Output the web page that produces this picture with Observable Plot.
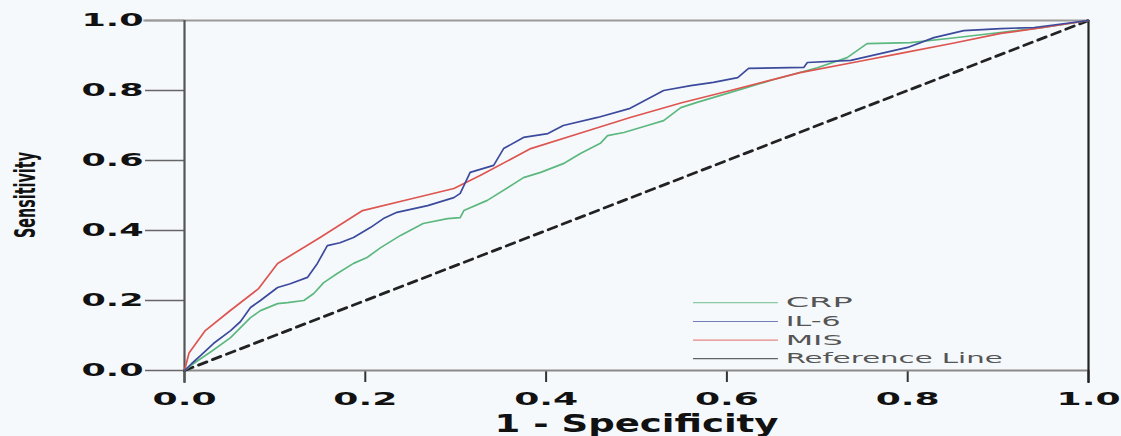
<!DOCTYPE html>
<html><head><meta charset="utf-8">
<script src="https://cdn.jsdelivr.net/npm/d3@7"></script>
<script src="https://cdn.jsdelivr.net/npm/@observablehq/plot@0.6"></script>
<style>body{margin:0;background:#f6f9fc;} svg{display:block;}</style>
</head><body><div id="chart"></div>
<script>
const yTicks = [0, 0.2, 0.4, 0.6, 0.8, 1.0];
const xTicks = [0, 0.2, 0.4, 0.6, 0.8, 1.0];
const seriesNames = ["CRP", "IL-6", "MIS", "Reference Line"];
const seriesColors = ["#5cb87f", "#3b4a9c", "#dd5550", "#222222"];

const misX = [0,0.005,0.023,0.05,0.082,0.103,0.15,0.197,0.25,0.298,0.327,0.383,0.44,0.493,0.55,0.604,0.681,0.75,0.792,0.85,0.903,0.95,1];
const misY = [0,0.05,0.114,0.17,0.234,0.306,0.38,0.457,0.49,0.52,0.557,0.634,0.68,0.723,0.765,0.80,0.851,0.885,0.906,0.935,0.963,0.98,1];

const il6X = [0,0.008,0.018,0.032,0.051,0.062,0.073,0.084,0.103,0.117,0.136,0.147,0.158,0.172,0.187,0.206,0.22,0.235,0.269,0.298,0.305,0.316,0.342,0.353,0.375,0.402,0.419,0.457,0.493,0.53,0.56,0.585,0.612,0.624,0.685,0.689,0.737,0.8,0.829,0.862,0.903,0.94,1];
const il6Y = [0,0.02,0.043,0.077,0.114,0.14,0.18,0.2,0.237,0.248,0.266,0.306,0.357,0.365,0.38,0.409,0.434,0.452,0.471,0.494,0.506,0.566,0.586,0.634,0.666,0.677,0.70,0.723,0.749,0.80,0.814,0.823,0.837,0.863,0.866,0.88,0.886,0.923,0.951,0.971,0.977,0.98,1];

const crpX = [0,0.01,0.03,0.051,0.073,0.084,0.103,0.114,0.132,0.143,0.154,0.169,0.187,0.202,0.217,0.239,0.264,0.291,0.305,0.309,0.335,0.375,0.394,0.419,0.438,0.46,0.468,0.486,0.512,0.53,0.549,0.567,0.593,0.65,0.7,0.733,0.755,0.803,0.85,0.9,0.95,1];
const crpY = [0,0.02,0.055,0.094,0.151,0.171,0.191,0.194,0.2,0.22,0.251,0.277,0.306,0.323,0.351,0.386,0.42,0.434,0.437,0.457,0.486,0.551,0.566,0.591,0.62,0.649,0.671,0.68,0.70,0.714,0.751,0.766,0.786,0.83,0.865,0.894,0.934,0.937,0.95,0.965,0.98,1];

const refX = [0, 1];
const refY = [0, 1];

const toPts = (xs, ys) => xs.map((x, i) => ({x, y: ys[i]}));
const crp = toPts(crpX, crpY), il6 = toPts(il6X, il6Y), mis = toPts(misX, misY), ref = toPts(refX, refY);

// legend rows (positions in data units inside the frame)
const legend = seriesNames.map((name, i) => ({name, color: seriesColors[i], y: [0.194, 0.14, 0.087, 0.034][i]}));

const font = "DejaVu Sans, sans-serif";
const chart = Plot.plot({
  width: 1121, height: 436,
  marginLeft: 184, marginRight: 33, marginTop: 20, marginBottom: 66,
  style: {background: "#f6f9fc", fontFamily: font},
  x: {domain: [0, 1]},
  y: {domain: [0, 1]},
  marks: [
    Plot.axisY(yTicks, {tickSize: 39, tickPadding: 2, tickFormat: d3.format(".1f"), fontSize: 18, fontWeight: "bold", stroke: "#666", fill: "#111", strokeWidth: 1.6, label: null}),
    Plot.axisX(xTicks, {tickSize: 12, tickPadding: 10, tickFormat: d3.format(".1f"), fontSize: 18, fontWeight: "bold", stroke: "#333", fill: "#111", strokeWidth: 2, label: null}),
    Plot.ruleY([0], {stroke: "#8a8a8a", strokeWidth: 2}),
    Plot.ruleY([1], {stroke: "#9a9a9a", strokeWidth: 2, x1: -0.045, x2: 1}),
    Plot.ruleX([0], {stroke: "#555", strokeWidth: 2.2, y1: -0.037, y2: 1}),
    Plot.ruleX([1], {stroke: "#222", strokeWidth: 2.2, y1: -0.037, y2: 1}),
    Plot.line(ref, {x: "x", y: "y", stroke: seriesColors[3], strokeWidth: 2.8, strokeDasharray: "9,6"}),
    Plot.line(crp, {x: "x", y: "y", stroke: seriesColors[0], strokeWidth: 1.7}),
    Plot.line(mis, {x: "x", y: "y", stroke: seriesColors[2], strokeWidth: 1.7}),
    Plot.line(il6, {x: "x", y: "y", stroke: seriesColors[1], strokeWidth: 1.7}),
    Plot.ruleY(legend, {y: "y", x1: 0.563, x2: 0.657, stroke: "color", strokeWidth: 1.2, strokeOpacity: 0.7,
      strokeDasharray: d => d.name === "Reference Line" ? "6,4" : null}),
    Plot.text(legend, {y: "y", x: 0.665, text: "name", textAnchor: "start", fontSize: 14, fill: "#555", className: "legtext"}),
    Plot.text(["1 - Specificity"], {frameAnchor: "bottom", dy: 61, lineAnchor: "bottom", fontSize: 24, fontWeight: "bold", fill: "#111", className: "xlab"})
  ]
});
document.getElementById("chart").appendChild(chart);

const svg = d3.select(chart);
svg.selectAll('g[aria-label="y-axis tick label"] text').attr("textLength", 62).attr("lengthAdjust", "spacingAndGlyphs");
svg.selectAll('g[aria-label="x-axis tick label"] text').attr("textLength", 64).attr("lengthAdjust", "spacingAndGlyphs");
svg.selectAll('.xlab text').attr("textLength", 284).attr("lengthAdjust", "spacingAndGlyphs");
const legLen = {"CRP": 67, "IL-6": 55, "MIS": 57, "Reference Line": 217};
svg.selectAll('.legtext text').each(function() {
  const t = d3.select(this);
  t.attr("textLength", legLen[t.text()]).attr("lengthAdjust", "spacingAndGlyphs");
});
// y-axis title (rotated), anchored at its start so the stretched length stays centred on the frame
svg.append("text")
  .attr("transform", "translate(35,238) rotate(-90)")
  .attr("text-anchor", "start")
  .attr("font-family", font)
  .attr("font-size", 28)
  .attr("font-weight", "bold")
  .attr("fill", "#111")
  .attr("textLength", 86)
  .attr("lengthAdjust", "spacingAndGlyphs")
  .text("Sensitivity");
</script>
</body></html>
